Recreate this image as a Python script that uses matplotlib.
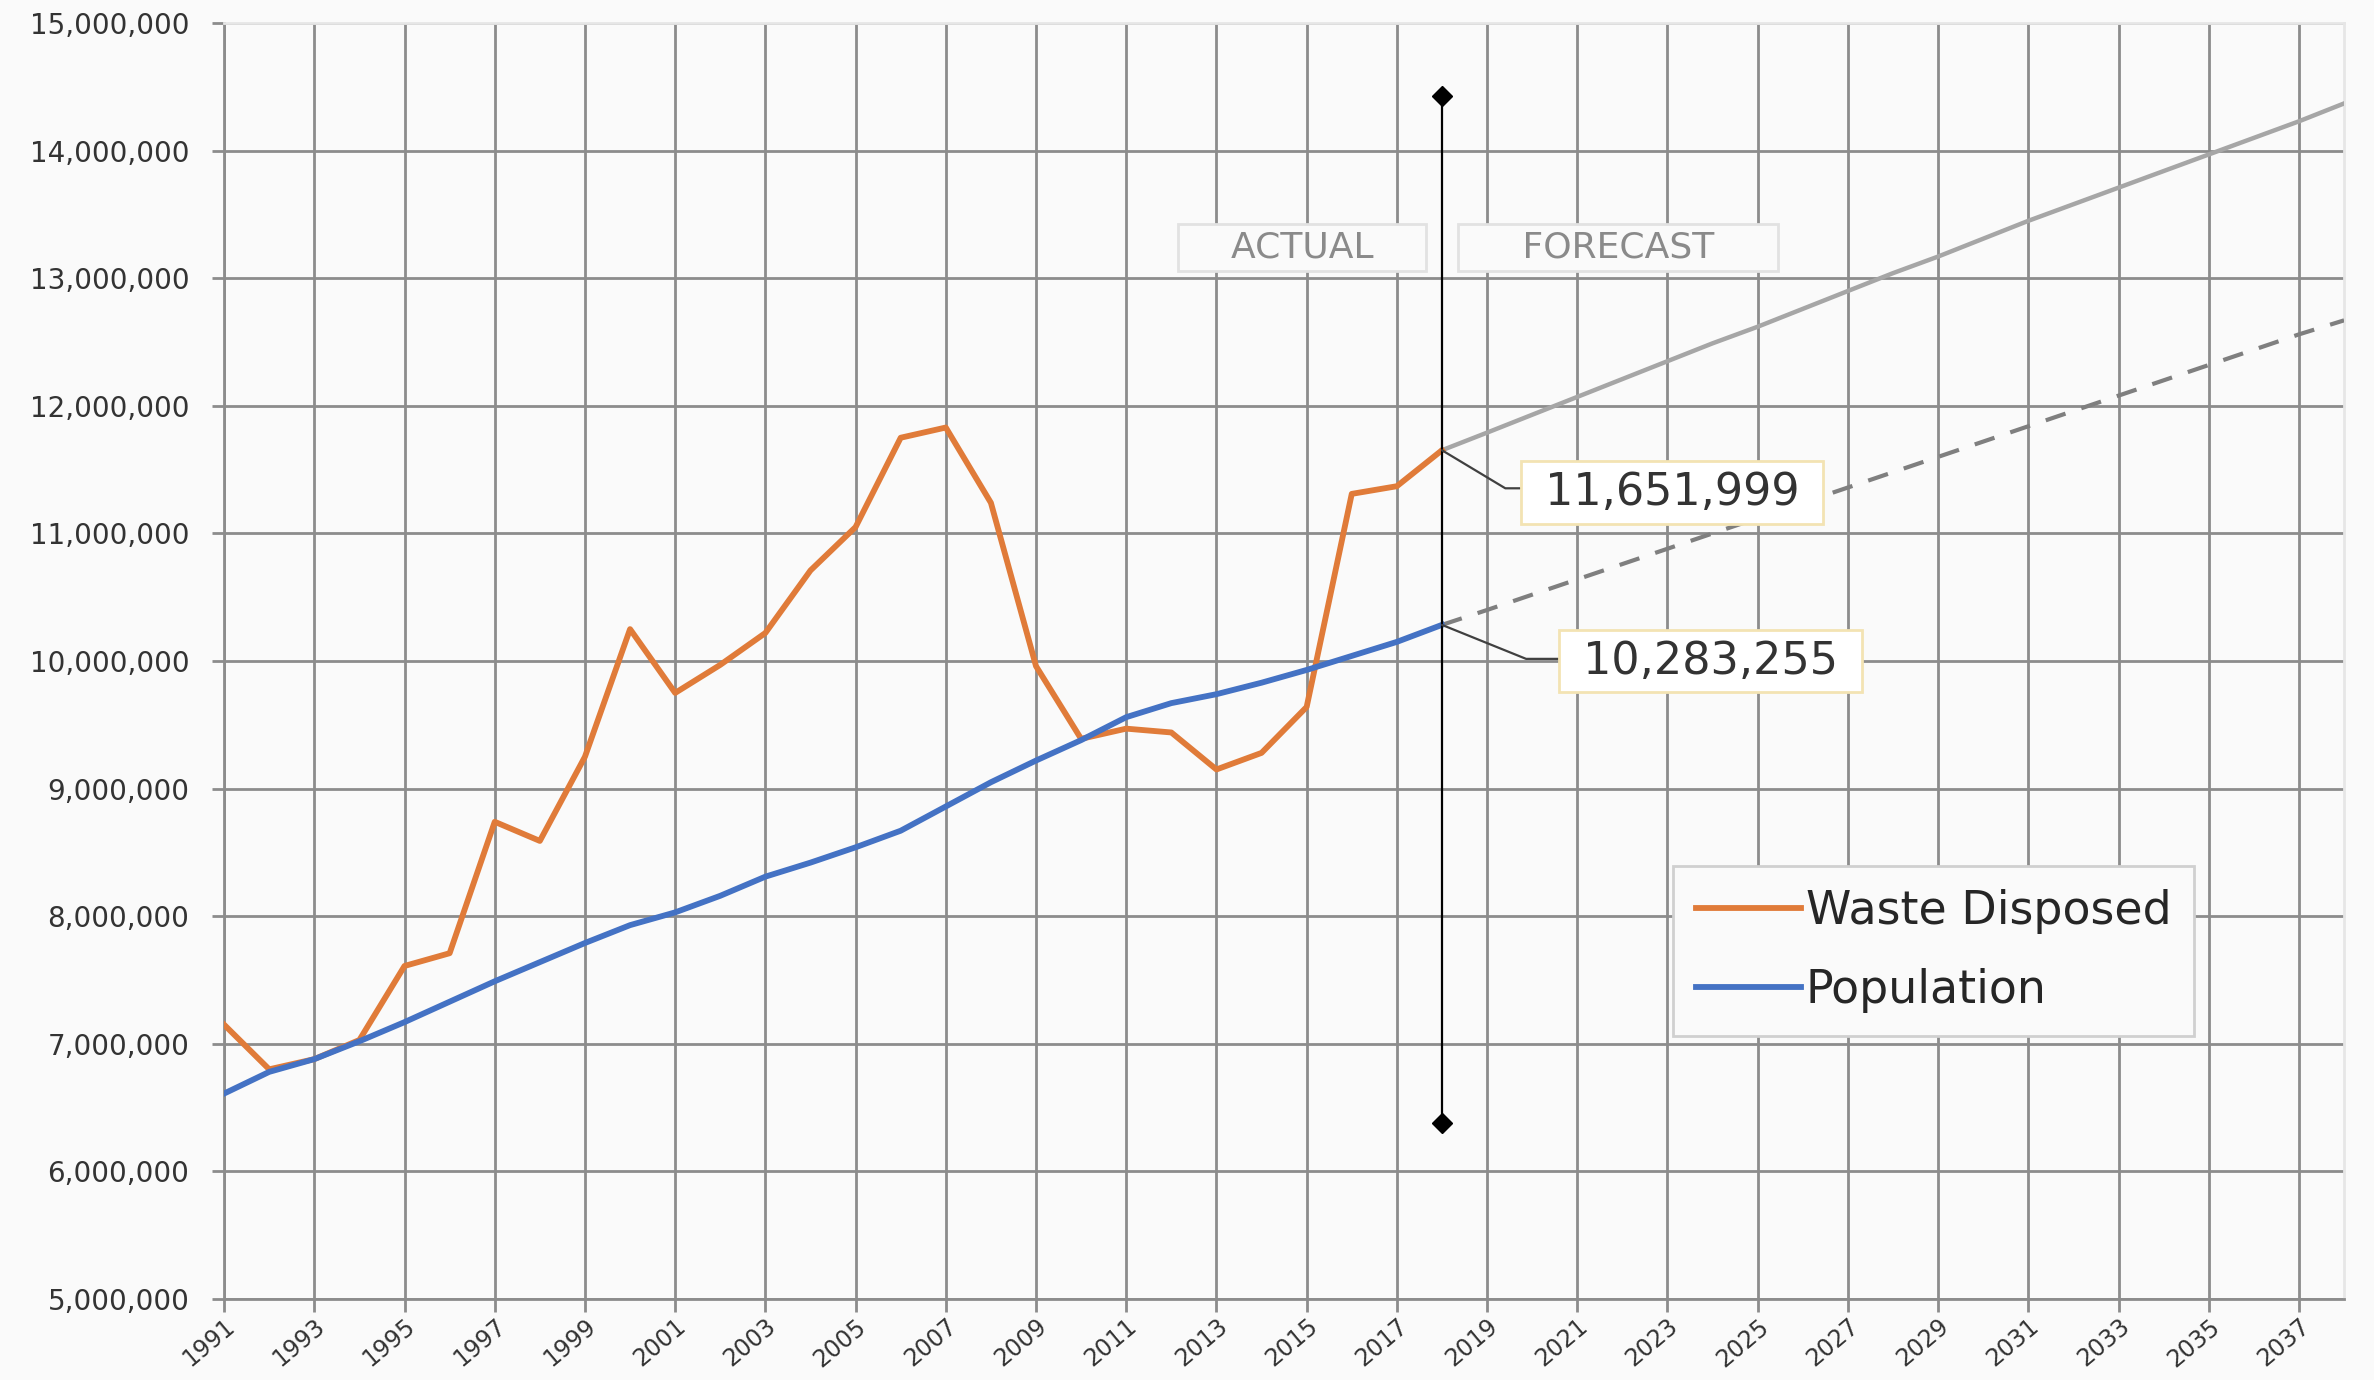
import numpy as np
import matplotlib
matplotlib.use("Agg")
import matplotlib.pyplot as plt
from matplotlib.ticker import FuncFormatter, MultipleLocator

# actual values 1991-2018
years_actual = list(range(1991, 2019))
waste_disposed = [7.15e6, 6.80e6, 6.88e6, 7.03e6, 7.61e6, 7.71e6, 8.74e6, 8.59e6,
                  9.25e6, 10.25e6, 9.75e6, 9.97e6, 10.22e6, 10.71e6, 11.05e6, 11.75e6,
                  11.83e6, 11.24e6, 9.96e6, 9.39e6, 9.47e6, 9.44e6, 9.15e6, 9.28e6,
                  9.64e6, 11.31e6, 11.37e6, 11651999]
population = [6.61e6, 6.78e6, 6.88e6, 7.02e6, 7.17e6, 7.33e6, 7.49e6, 7.64e6,
              7.79e6, 7.93e6, 8.03e6, 8.16e6, 8.31e6, 8.42e6, 8.54e6, 8.67e6,
              8.86e6, 9.05e6, 9.22e6, 9.38e6, 9.56e6, 9.67e6, 9.74e6, 9.83e6,
              9.93e6, 10.04e6, 10.15e6, 10283255]

# forecast 2018-2038
years_forecast = list(range(2018, 2039))
waste_forecast = [11651999, 11.79e6, 11.93e6, 12.07e6, 12.21e6, 12.35e6, 12.49e6,
                  12.62e6, 12.76e6, 12.90e6, 13.04e6, 13.17e6, 13.31e6, 13.45e6,
                  13.58e6, 13.71e6, 13.84e6, 13.97e6, 14.10e6, 14.23e6, 14.37e6]
population_forecast = [10283255, 10.40e6, 10.52e6, 10.64e6, 10.76e6, 10.88e6, 11.00e6,
                       11.12e6, 11.24e6, 11.36e6, 11.48e6, 11.60e6, 11.72e6, 11.84e6,
                       11.96e6, 12.08e6, 12.20e6, 12.32e6, 12.44e6, 12.56e6, 12.67e6]

x_ticks = list(range(1991, 2038, 2))
divider_year = 2018
divider_range = [6.38e6, 14.43e6]

plt.rcParams['font.family'] = ['DejaVu Sans']

fig = plt.figure(figsize=(23.74, 13.8), dpi=100)
fig.patch.set_facecolor('#fafafa')
ax = fig.add_axes([0.0944, 0.0587, 0.893, 0.9246])
ax.set_facecolor('#fafafa')

# grid
ax.set_xlim(1991, 2038)
ax.set_ylim(5e6, 15e6)
ax.set_xticks(x_ticks)
ax.yaxis.set_major_locator(MultipleLocator(1e6))
ax.grid(True, color='#8c8c8c', linewidth=2)
ax.set_axisbelow(True)
ax.yaxis.set_major_formatter(FuncFormatter(lambda v, p: f'{int(v):,}'))
ax.tick_params(axis='both', color='#8c8c8c', width=2, length=9, labelcolor='#333333')
ax.tick_params(axis='y', labelsize=20, pad=16)
ax.tick_params(axis='x', labelsize=17, pad=2)
for lab in ax.get_xticklabels():
    lab.set_rotation(40)
    lab.set_ha('right')
    lab.set_rotation_mode('anchor')
for side in ['left', 'bottom']:
    ax.spines[side].set_color('#8c8c8c')
    ax.spines[side].set_linewidth(2)
for side in ['top', 'right']:
    ax.spines[side].set_color('#e6e6e6')
    ax.spines[side].set_linewidth(2)

# forecast lines
ax.plot(years_forecast, waste_forecast, color='#a6a6a6', linewidth=3.2, zorder=3)
ax.plot(years_forecast, population_forecast, color='#7f7f7f', linewidth=3,
        linestyle=(0, (5, 4)), zorder=3)

# actual lines
ax.plot(years_actual, waste_disposed, color='#e07b39', linewidth=4.2,
        label='Waste Disposed', zorder=4)
ax.plot(years_actual, population, color='#4472c4', linewidth=4.2,
        label='Population', zorder=4)

# divider
ax.plot([divider_year, divider_year], divider_range, color='black', linewidth=1.6,
        marker='D', markersize=10, zorder=5)

tag_box = dict(boxstyle='square,pad=0.18', facecolor='#fafafa', edgecolor='#e2e2e2',
               linewidth=2)
ax.text(2014.9, 13.24e6, '    ACTUAL    ', fontsize=26, color='#8a8a8a', ha='center',
        va='center', bbox=tag_box, zorder=6)
ax.text(2021.9, 13.24e6, '     FORECAST     ', fontsize=26, color='#8a8a8a', ha='center',
        va='center', bbox=tag_box, zorder=6)

# value callouts
label_style = dict(boxstyle='square,pad=0.22', facecolor='white', edgecolor='#f3e3b3',
                   linewidth=2)
ax.annotate(f' {waste_disposed[-1]:,} ', xy=(divider_year, waste_disposed[-1]),
            xytext=(2023.1, 11.32e6), fontsize=32, color='#333333', ha='center',
            va='center', bbox=label_style, zorder=6,
            arrowprops=dict(arrowstyle='-', color='#404040', linewidth=1.6,
                            relpos=(0, 0.6), shrinkA=0, shrinkB=0,
                            connectionstyle='angle,angleA=180,angleB=-31,rad=0'))
ax.annotate(f' {population[-1]:,} ', xy=(divider_year, population[-1]),
            xytext=(2023.95, 10.0e6), fontsize=32, color='#333333', ha='center',
            va='center', bbox=label_style, zorder=6,
            arrowprops=dict(arrowstyle='-', color='#404040', linewidth=1.6,
                            relpos=(0, 0.55), shrinkA=0, shrinkB=0,
                            connectionstyle='angle,angleA=180,angleB=-22,rad=0'))

leg = ax.legend(loc='upper left', bbox_to_anchor=(0.7047, 0.3725),
                bbox_transform=fig.transFigure, fontsize=33, frameon=True,
                fancybox=False, handlelength=2.3, handletextpad=0.1,
                borderpad=0.5, labelspacing=0.75, borderaxespad=0)
leg.get_frame().set_edgecolor('#d0d0d0')
leg.get_frame().set_linewidth(2)
leg.get_frame().set_facecolor('#fafafa')
leg.get_frame().set_alpha(1)
for t in leg.get_texts():
    t.set_color('#262626')

fig.savefig('out.png', dpi=100, facecolor=fig.get_facecolor())
